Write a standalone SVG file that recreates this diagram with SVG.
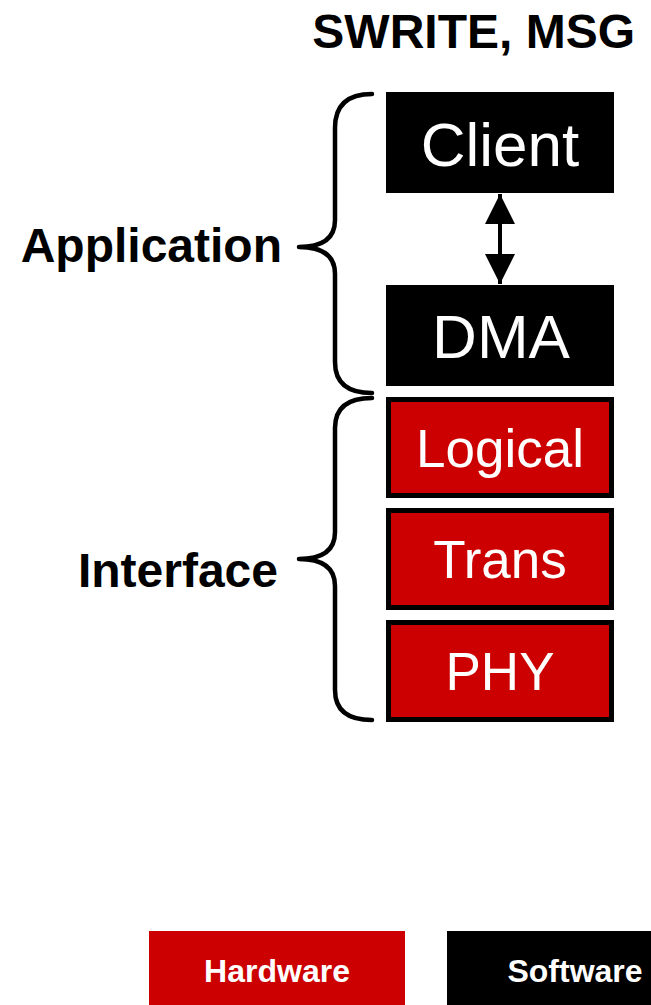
<svg xmlns="http://www.w3.org/2000/svg" width="651" height="1005" viewBox="0 0 651 1005">
  <style>
    .title { font-family: "Liberation Sans", Arial, sans-serif; font-weight: bold; font-size: 48px; fill: #000; }
    .sw { fill: #000; }
    .hw { fill: #CC0000; stroke: #000; stroke-width: 5; }
    .big { font-family: "Liberation Sans", Arial, sans-serif; font-size: 62px; fill: #fff; text-anchor: middle; }
    .mid { font-family: "Liberation Sans", Arial, sans-serif; font-size: 53px; fill: #fff; text-anchor: middle; }
    .legend { font-family: "Liberation Sans", Arial, sans-serif; font-weight: bold; font-size: 32px; fill: #fff; text-anchor: middle; }
    .brace { fill: none; stroke: #000; stroke-width: 4.5; stroke-linecap: round; stroke-linejoin: round; }
    .link { stroke: #000; stroke-width: 4; }
  </style>
  <defs>
    <marker id="head" viewBox="0 0 10 10" refX="10" refY="5" markerWidth="7.5" markerHeight="7.5" markerUnits="strokeWidth" orient="auto-start-reverse">
      <path d="M0,0 L10,5 L0,10 Z" fill="#000"/>
    </marker>
  </defs>

  <rect width="651" height="1005" fill="#fff"/>

  <text class="title" x="635" y="48" text-anchor="end">SWRITE, MSG</text>

  <!-- layer braces -->
  <g id="app-brace">
    <path class="brace" d="M372,94 Q335,94 335,128 L335,220 Q335,247 299,247 Q335,247 335,274 L335,362 Q335,393 372,393"/>
    <text class="title" x="282" y="262" text-anchor="end">Application</text>
  </g>
  <g id="if-brace">
    <path class="brace" d="M372,398 Q335,398 335,428 L335,532 Q335,559 299,559 Q335,559 335,586 L335,690 Q335,720 372,720"/>
    <text class="title" x="278" y="587" text-anchor="end">Interface</text>
  </g>

  <!-- software layers -->
  <g id="client">
    <rect class="sw" x="386" y="92" width="228" height="101"/>
    <text class="big" x="500" y="166">Client</text>
  </g>
  <g id="dma">
    <rect class="sw" x="386" y="285" width="228" height="101"/>
    <text class="big" x="501" y="358">DMA</text>
  </g>

  <!-- hardware layers -->
  <g id="logical">
    <rect class="hw" x="388.5" y="399.5" width="223" height="96"/>
    <text class="mid" x="500" y="467">Logical</text>
  </g>
  <g id="trans">
    <rect class="hw" x="388.5" y="510.5" width="223" height="97"/>
    <text class="mid" x="500" y="578">Trans</text>
  </g>
  <g id="phy">
    <rect class="hw" x="388.5" y="622.5" width="223" height="97"/>
    <text class="mid" x="500" y="690">PHY</text>
  </g>

  <!-- connectors -->
  <g id="connectors">
    <line class="link" x1="500" y1="194" x2="500" y2="284" marker-start="url(#head)" marker-end="url(#head)"/>
  </g>

  <!-- legend -->
  <g id="legend-hardware">
    <rect x="149" y="931" width="256" height="74" fill="#CC0000"/>
    <text class="legend" x="277" y="982">Hardware</text>
  </g>
  <g id="legend-software">
    <rect x="447" y="931" width="210" height="74" fill="#000"/>
    <text class="legend" x="575" y="982">Software</text>
  </g>
</svg>
